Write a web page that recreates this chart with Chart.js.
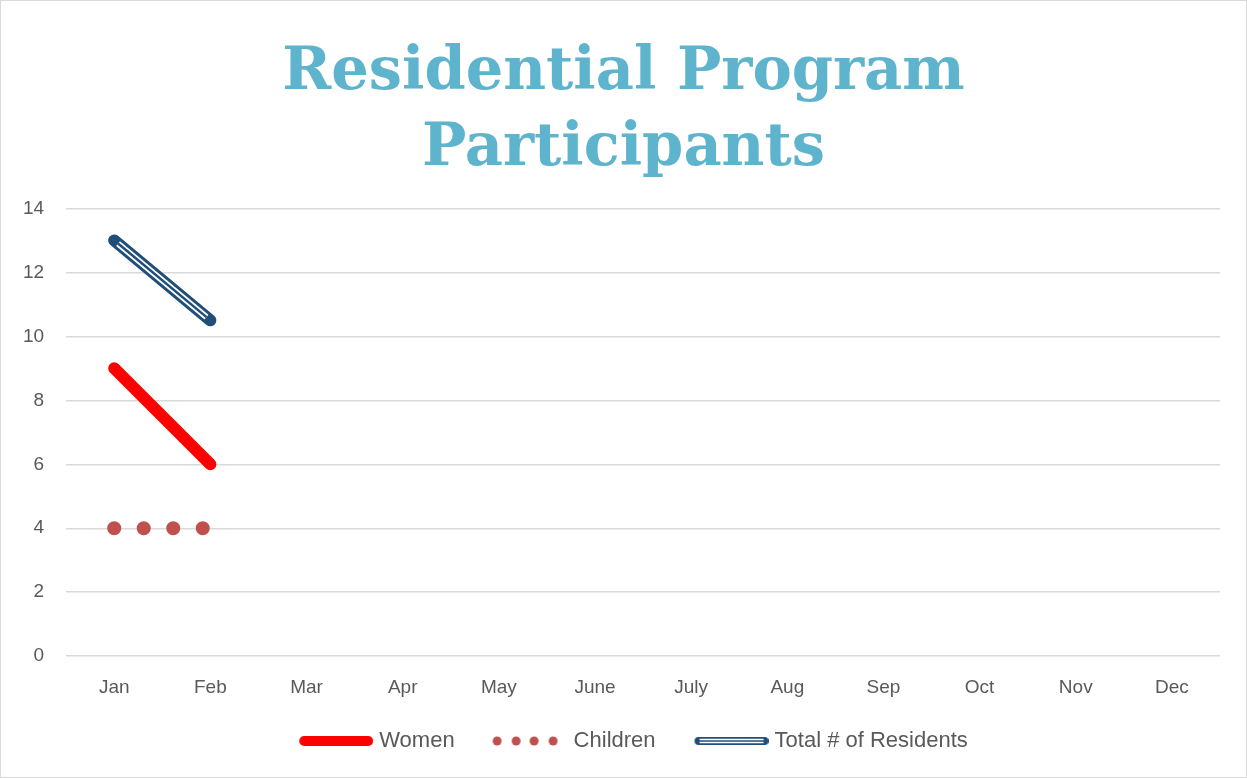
<!DOCTYPE html>
<html>
<head>
<meta charset="utf-8">
<script src="https://cdn.jsdelivr.net/npm/chart.js@4"></script>
<style>
	html, body { margin: 0; padding: 0; background: #fff; }
	.frame {
		width: 1247px;
		height: 778px;
		box-sizing: border-box;
		border: 1px solid #d9d9d9;
		position: relative;
	}
	canvas { display: block; }
</style>
</head>
<body>
<div class="frame"><canvas id="chart" width="1245" height="776"></canvas></div>
<script>
const months = ['Jan', 'Feb', 'Mar', 'Apr', 'May', 'June', 'July', 'Aug', 'Sep', 'Oct', 'Nov', 'Dec'];
const women = [9, 6];
const children = [4, 4];
const totalResidents = [13, 10.5];

const navy = '#1f4e79';
const red = '#ff0000';
const dotRed = '#c0504d';
const textGrey = '#595959';

// legend marker canvases; the box is markerBox wide, canvas a bit wider (centred on it)
const markerBox = 89;
const markerW = markerBox + 10;

const makeMarker = (draw) => {
	const c = document.createElement('canvas');
	c.width = markerW;
	c.height = 16;
	draw(c.getContext('2d'));
	return c;
};

const womenMarker = makeMarker((ctx) => {
	ctx.strokeStyle = red;
	ctx.lineWidth = 10;
	ctx.lineCap = 'round';
	ctx.beginPath();
	ctx.moveTo(markerW - 69, 8);
	ctx.lineTo(markerW - 5, 8);
	ctx.stroke();
});

const childrenMarker = makeMarker((ctx) => {
	ctx.fillStyle = dotRed;
	[70.5, 51.5, 33.5, 14.5].forEach((off) => {
		ctx.beginPath();
		ctx.arc(markerW - off, 8, 4.5, 0, Math.PI * 2);
		ctx.fill();
	});
});

const totalMarker = makeMarker((ctx) => {
	const x0 = markerW - 70;
	const x1 = markerW - 4;
	ctx.lineCap = 'round';
	ctx.strokeStyle = navy;
	ctx.lineWidth = 8;
	ctx.beginPath();
	ctx.moveTo(x0, 8);
	ctx.lineTo(x1, 8);
	ctx.stroke();
	ctx.lineCap = 'butt';
	ctx.strokeStyle = '#fff';
	ctx.lineWidth = 4.5;
	ctx.beginPath();
	ctx.moveTo(x0 + 1, 8);
	ctx.lineTo(x1 - 1, 8);
	ctx.stroke();
	ctx.strokeStyle = navy;
	ctx.lineWidth = 1.5;
	ctx.beginPath();
	ctx.moveTo(x0 + 1, 8);
	ctx.lineTo(x1 - 1, 8);
	ctx.stroke();
});

// draws the white/navy inner strokes of the compound line for "Total"
const doubleLinePlugin = {
	id: 'doubleLine',
	afterDatasetsDraw(chart) {
		chart.data.datasets.forEach((ds, i) => {
			if (!ds.doubleLine) return;
			const pts = chart.getDatasetMeta(i).data;
			if (pts.length < 2) return;
			const ctx = chart.ctx;
			ctx.save();
			const strokeInner = (color, width, trim) => {
				ctx.strokeStyle = color;
				ctx.lineWidth = width;
				ctx.lineCap = 'butt';
				ctx.beginPath();
				for (let k = 0; k < pts.length - 1; k++) {
					const a = pts[k];
					const b = pts[k + 1];
					const dx = b.x - a.x;
					const dy = b.y - a.y;
					const len = Math.hypot(dx, dy);
					const ux = dx / len;
					const uy = dy / len;
					const sx = k === 0 ? a.x + ux * trim : a.x;
					const sy = k === 0 ? a.y + uy * trim : a.y;
					const last = k === pts.length - 2;
					const ex = last ? b.x - ux * trim : b.x;
					const ey = last ? b.y - uy * trim : b.y;
					if (k === 0) ctx.moveTo(sx, sy);
					ctx.lineTo(ex, ey);
				}
				ctx.stroke();
			};
			strokeInner('#fff', 6, 5);
			strokeInner(navy, 2.5, 5);
			ctx.restore();
		});
	},
};

new Chart(document.getElementById('chart'), {
	type: 'line',
	data: {
		labels: months,
		datasets: [
			{
				label: 'Women',
				data: women,
				borderColor: red,
				backgroundColor: red,
				borderWidth: 12,
				borderCapStyle: 'round',
				borderJoinStyle: 'round',
				pointRadius: 0,
				pointStyle: womenMarker,
			},
			{
				label: 'Children',
				data: children,
				borderColor: dotRed,
				backgroundColor: dotRed,
				borderWidth: 14,
				borderCapStyle: 'round',
				borderDash: [0.01, 29.5],
				pointRadius: 0,
				pointStyle: childrenMarker,
			},
			{
				label: 'Total # of Residents',
				data: totalResidents,
				borderColor: navy,
				backgroundColor: navy,
				borderWidth: 12,
				borderCapStyle: 'round',
				borderJoinStyle: 'round',
				pointRadius: 0,
				pointStyle: totalMarker,
				doubleLine: true,
			},
		],
	},
	options: {
		responsive: false,
		animation: false,
		layout: {
			padding: { left: 0, right: 0, top: 18, bottom: 15 },
		},
		plugins: {
			title: {
				display: true,
				text: ['Residential Program', 'Participants'],
				color: '#5eb4cd',
				font: { family: '"DejaVu Serif"', size: 59, weight: 'bold', lineHeight: 1.3 },
				padding: { top: 16, bottom: 20 },
			},
			legend: {
				position: 'bottom',
				labels: {
					usePointStyle: true,
					pointStyleWidth: markerBox,
					color: textGrey,
					padding: 19,
					font: { family: '"Liberation Sans"', size: 22 },
				},
			},
			tooltip: { enabled: false },
		},
		scales: {
			x: {
				offset: true,
				grid: { display: false },
				border: { display: false },
				ticks: {
					color: textGrey,
					padding: 12,
					font: { family: '"Liberation Sans"', size: 19 },
				},
			},
			y: {
				min: 0,
				max: 14,
				grid: { color: '#d9d9d9', lineWidth: 1.5, drawTicks: false },
				border: { display: false },
				ticks: {
					stepSize: 2,
					color: textGrey,
					padding: 22,
					font: { family: '"Liberation Sans"', size: 19 },
				},
			},
			// empty right-hand gutter so the title and legend stay centred on the page
			gutter: {
				type: 'linear',
				position: 'right',
				display: true,
				grid: { display: false },
				border: { display: false },
				ticks: { display: false },
				afterFit: (scale) => {
					scale.width = 26;
				},
			},
		},
	},
	plugins: [doubleLinePlugin],
});
</script>
</body>
</html>
